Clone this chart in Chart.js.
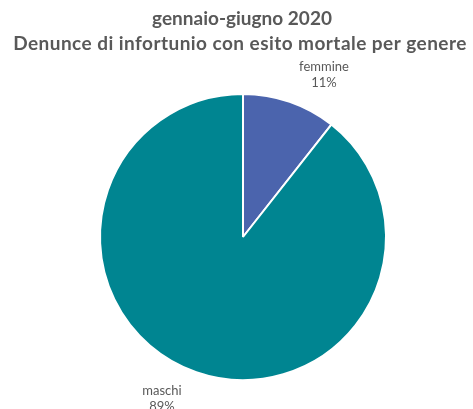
<!DOCTYPE html>
<html>
<head>
<meta charset="utf-8">
<script src="https://cdn.jsdelivr.net/npm/chart.js@4"></script>
<style>
html,body{margin:0;padding:0;background:#fff;}
#wrap{width:473px;height:409px;position:relative;}
</style>
</head>
<body>
<div id="wrap"><canvas id="c" width="473" height="409"></canvas></div>
<script>
const categories = ["femmine", "maschi"];
const shares = [10.6, 89.4];
const colors = ["#4b64ad", "#008591"];
const titleLines = ["gennaio-giugno 2020", "Denunce di infortunio con esito mortale per genere"];

const titlePlugin = {
  id: "titlePlugin",
  afterDraw(chart) {
    const ctx = chart.ctx;
    ctx.save();
    ctx.fillStyle = "#595959";
    ctx.font = "bold 19px Lato, 'Open Sans', sans-serif";
    ctx.textAlign = "center";
    ctx.textBaseline = "middle";
    ctx.fillText(titleLines[0], 242, 19);
    if ("letterSpacing" in ctx) ctx.letterSpacing = "0.45px";
    ctx.fillText(titleLines[1], 240, 44);
    ctx.restore();
  }
};

const outerLabels = {
  id: "outerLabels",
  afterDatasetsDraw(chart) {
    const ctx = chart.ctx;
    const meta = chart.getDatasetMeta(0);
    ctx.save();
    ctx.fillStyle = "#595959";
    ctx.font = "13px Lato, 'Open Sans', sans-serif";
    ctx.textAlign = "center";
    ctx.textBaseline = "middle";
    meta.data.forEach((arc, i) => {
      const p = arc.getProps(["x", "y", "startAngle", "endAngle", "outerRadius"], true);
      const mid = (p.startAngle + p.endAngle) / 2 + 7.5 * Math.PI / 180;
      const d = p.outerRadius + 38;
      const x = p.x + Math.cos(mid) * d;
      const y = p.y + Math.sin(mid) * d;
      ctx.fillText(categories[i], x, y - 8);
      ctx.fillText(Math.round(shares[i]) + "%", x, y + 8);
    });
    ctx.restore();
  }
};

new Chart(document.getElementById("c"), {
  type: "pie",
  data: {
    labels: categories,
    datasets: [{
      data: shares,
      backgroundColor: colors,
      borderColor: "#ffffff",
      borderWidth: 2
    }]
  },
  options: {
    responsive: false,
    animation: false,
    layout: { padding: { top: 93, bottom: 28, left: 99, right: 86 } },
    plugins: {
      legend: { display: false },
      tooltip: { enabled: false },
      title: { display: false }
    }
  },
  plugins: [outerLabels, titlePlugin]
});
</script>
</body>
</html>
